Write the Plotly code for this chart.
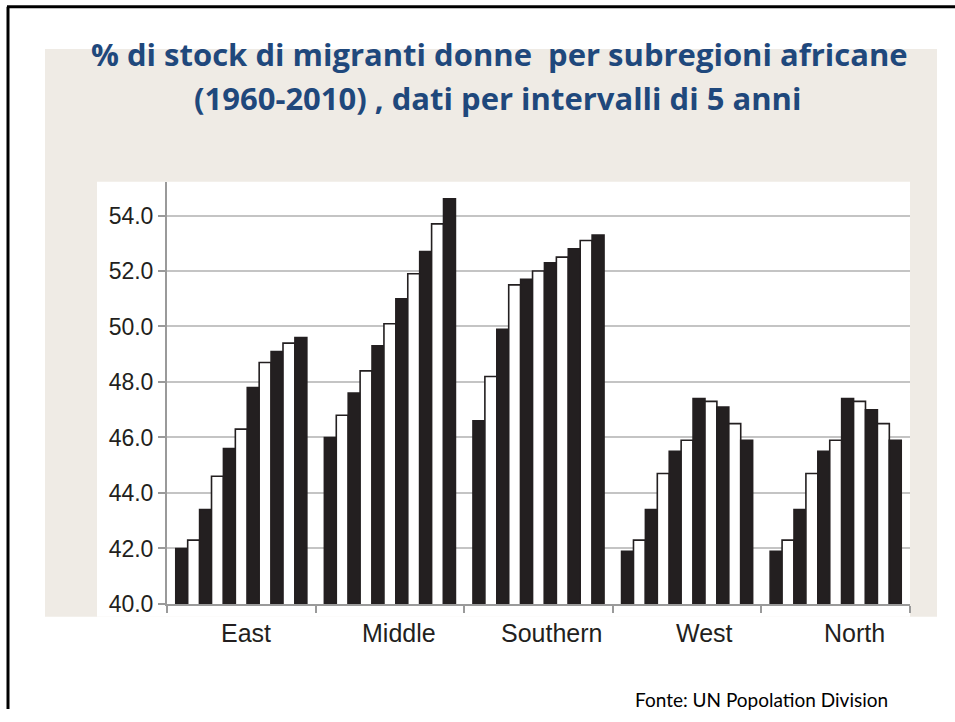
import plotly.graph_objects as go

# Share of women in the international migrant stock, by African subregion
regions = ["East", "Middle", "Southern", "West", "North"]
years = [1960, 1965, 1970, 1975, 1980, 1985, 1990, 1995, 2000, 2005, 2010]

east = [42.0, 42.3, 43.4, 44.6, 45.6, 46.3, 47.8, 48.7, 49.1, 49.4, 49.6]
middle = [46.0, 46.8, 47.6, 48.4, 49.3, 50.1, 51.0, 51.9, 52.7, 53.7, 54.6]
southern = [46.6, 48.2, 49.9, 51.5, 51.7, 52.0, 52.3, 52.5, 52.8, 53.1, 53.3]
west = [41.9, 42.3, 43.4, 44.7, 45.5, 45.9, 47.4, 47.3, 47.1, 46.5, 45.9]
north = [41.9, 42.3, 43.4, 44.7, 45.5, 45.9, 47.4, 47.3, 47.0, 46.5, 45.9]

series = [east, middle, southern, west, north]
y_ticks = [40, 42, 44, 46, 48, 50, 52, 54]

INK = "#231f20"
TITLE_BLUE = "#1f487c"
W, H = 955, 722


def px(x):
    return x / W


def py(y):
    return 1 - y / H


fig = go.Figure()
for i, yr in enumerate(years):
    fig.add_trace(go.Bar(
        name=str(yr),
        x=regions,
        y=[s[i] for s in series],
        marker=dict(color=INK if i % 2 == 0 else "white",
                    line=dict(color=INK, width=1.6)),
        showlegend=False,
    ))

shapes = [
    # textured backdrop band behind the chart
    dict(type="rect", xref="paper", yref="paper", x0=px(45), x1=px(937),
         y0=py(628), y1=py(50), fillcolor="#efebe5",
         line=dict(width=0), layer="below"),
    # white chart panel
    dict(type="rect", xref="paper", yref="paper", x0=px(97), x1=px(910),
         y0=py(628), y1=py(185), fillcolor="white",
         line=dict(width=0), layer="below"),
    # slide frame
    dict(type="line", xref="paper", yref="paper", x0=px(7), x1=1,
         y0=py(7), y1=py(7), line=dict(color="black", width=3)),
    dict(type="line", xref="paper", yref="paper", x0=px(8), x1=px(8),
         y0=0, y1=py(7), line=dict(color="black", width=3)),
]

title_font = dict(family="Open Sans", size=31, color=TITLE_BLUE)
annotations = [
    dict(text="<b>% di stock di migranti donne  per subregioni africane</b>",
         xref="paper", yref="paper", x=px(499), y=py(55), yanchor="middle",
         showarrow=False, font=title_font),
    dict(text="<b>(1960-2010) , dati per intervalli di 5 anni</b>",
         xref="paper", yref="paper", x=px(498), y=py(100), yanchor="middle",
         showarrow=False, font=title_font),
    dict(text="Fonte: UN Popolation Division", xref="paper", yref="paper",
         x=px(633), y=py(712), xanchor="left", yanchor="middle", showarrow=False,
         font=dict(family="Lato", size=19, color="black")),
]

# category labels sit slightly right of the group centres
label_shift = [5, 9, 13, 17, 19]
for reg, dx in zip(regions, label_shift):
    annotations.append(dict(text=reg, x=reg, xref="x", yref="paper",
                            y=py(645), yanchor="middle", xshift=dx, showarrow=False,
                            font=dict(family="Liberation Sans", size=25, color=INK)))

fig.update_layout(
    width=W, height=H,
    autosize=False,
    margin=dict(l=0, r=0, t=0, b=0),
    paper_bgcolor="white",
    plot_bgcolor="rgba(0,0,0,0)",
    barmode="group",
    bargap=0.118,
    bargroupgap=0,
    shapes=shapes,
    annotations=annotations,
    xaxis=dict(
        domain=[px(167), px(910)],
        showticklabels=False,
        tickson="boundaries",
        ticks="outside", ticklen=7, tickwidth=1.5, tickcolor="#9a9a9a",
        showline=True, linecolor="#9a9a9a", linewidth=2,
        showgrid=False, zeroline=False,
    ),
    yaxis=dict(
        domain=[py(615), py(185)],
        range=[40, 55.22],
        tickvals=y_ticks,
        ticktext=[f"{v:.1f}" for v in y_ticks],
        ticks="outside", ticklen=7, tickwidth=1.5, tickcolor="#9a9a9a",
        showline=True, linecolor="#9a9a9a", linewidth=2,
        showgrid=True, gridcolor="#c4c4c4", gridwidth=1.5,
        zeroline=False,
        tickfont=dict(family="Liberation Sans", size=23, color=INK),
    ),
)

fig.write_html("out.html", config={"responsive": False})
